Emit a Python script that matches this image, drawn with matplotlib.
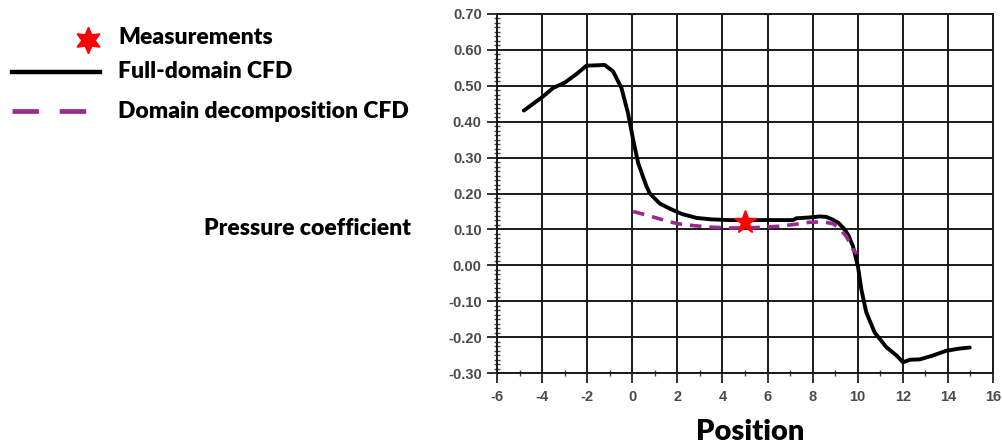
import matplotlib.pyplot as plt
import numpy as np
from matplotlib.lines import Line2D
from matplotlib.ticker import MultipleLocator

# Full-domain CFD (position, pressure coefficient)
full_x = [-4.81, -3.96, -3.51, -2.99, -2.47, -2.03, -1.22, -0.85, -0.48,
          -0.19, 0.04, 0.26, 0.63, 0.78, 1.22, 1.66, 2.2, 2.85, 3.5, 4.32,
          5.5, 7.13, 7.28, 7.8, 8.31, 8.6, 8.9, 9.15, 9.42, 9.6, 9.79, 10.01,
          10.16, 10.38, 10.75, 11.27, 11.72, 12.01, 12.31, 12.75, 13.3, 13.93,
          14.5, 14.97]
full_cp = [0.431, 0.470, 0.494, 0.509, 0.533, 0.556, 0.558, 0.540, 0.494,
           0.424, 0.350, 0.285, 0.220, 0.200, 0.172, 0.158, 0.143, 0.132,
           0.128, 0.126, 0.126, 0.126, 0.131, 0.133, 0.136, 0.135, 0.127,
           0.118, 0.100, 0.082, 0.053, -0.003, -0.067, -0.131, -0.187, -0.228,
           -0.251, -0.270, -0.263, -0.262, -0.252, -0.238, -0.232, -0.229]

# Domain decomposition CFD
dd_x = [0.04, 0.5, 1.07, 1.6, 2.1, 2.8, 3.58, 4.3, 5.06, 5.8, 6.54, 7.2,
        7.87, 8.46, 8.9, 9.2, 9.5, 9.79, 9.95]
dd_cp = [0.150, 0.142, 0.132, 0.122, 0.115, 0.110, 0.106, 0.104, 0.104,
         0.106, 0.109, 0.114, 0.120, 0.121, 0.116, 0.102, 0.080, 0.045, 0.032]

# Measurement
meas_x = [5.0]
meas_cp = [0.12]

purple = '#9a2a92'
label_font = 'Lato'

fig = plt.figure(figsize=(10.02, 4.47), dpi=100)
fig.patch.set_facecolor('white')
ax = fig.add_axes([0.496, 0.1655, 0.495, 0.8032])

ax.plot(full_x, full_cp, color='black', lw=2.8, solid_capstyle='round',
        solid_joinstyle='round', zorder=3)
ax.plot(dd_x, dd_cp, color=purple, lw=2.6, dashes=(3.2, 2.2), zorder=4)
ax.plot(meas_x, meas_cp, marker='*', color='red', markersize=17,
        linestyle='none', zorder=5)

ax.set_xlim(-6, 16)
ax.set_ylim(-0.30, 0.70)
ax.xaxis.set_minor_locator(MultipleLocator(1))
ax.yaxis.set_minor_locator(MultipleLocator(0.0125))
xt = np.arange(-6, 17, 2)
yt = np.round(np.arange(-0.3, 0.71, 0.1), 2)
ax.set_xticks(xt)
ax.set_xticklabels([str(v) for v in xt])
ax.set_yticks(yt)
ax.set_yticklabels([f'{v:.2f}' for v in yt])

ax.grid(True, which='major', color='#1a1a1a', lw=1.4)
for s in ax.spines.values():
    s.set_color('#1a1a1a')
    s.set_linewidth(1.4)
ax.tick_params(axis='both', which='major', length=7, width=1.3,
               color='#222222', labelcolor='#4a4a4a', labelsize=10.5,
               direction='out')
ax.tick_params(axis='both', which='minor', length=4, width=1.0,
               color='#444444', direction='inout')
ax.tick_params(axis='x', pad=5)
ax.tick_params(axis='y', pad=4)
for lab in ax.get_xticklabels() + ax.get_yticklabels():
    lab.set_family('Liberation Sans')
    lab.set_fontweight('bold')

# axis titles placed like the original
fig.text(0.410, 1 - 229 / 447, 'Pressure coefficient', ha='right', va='center',
         fontsize=16.5, fontweight='heavy', family=label_font)
fig.text(750 / 1002, 1 - 432 / 447, 'Position', ha='center', va='center',
         fontsize=21, fontweight='heavy', family=label_font)

# legend
leg_x = 118 / 1002
rows = [1 - 37 / 447, 1 - 72 / 447, 1 - 111 / 447]
fig.add_artist(Line2D([88 / 1002], [1 - 40 / 447], marker=(6, 1, 0),
                      color='red', markersize=19, linestyle='none'))
fig.add_artist(Line2D([12 / 1002, 100 / 1002], [rows[1], rows[1]],
                      color='black', lw=3.2))
fig.add_artist(Line2D([12 / 1002, 100 / 1002], [rows[2], rows[2]],
                      color=purple, lw=3.4, dashes=(5.6, 4.4)))
for y, txt in zip(rows, ['Measurements', 'Full-domain CFD',
                         'Domain decomposition CFD']):
    fig.text(leg_x, y, txt, ha='left', va='center', fontsize=16.5,
             fontweight='heavy', family=label_font)

plt.savefig('out.png', dpi=100, facecolor='white')
plt.close()
